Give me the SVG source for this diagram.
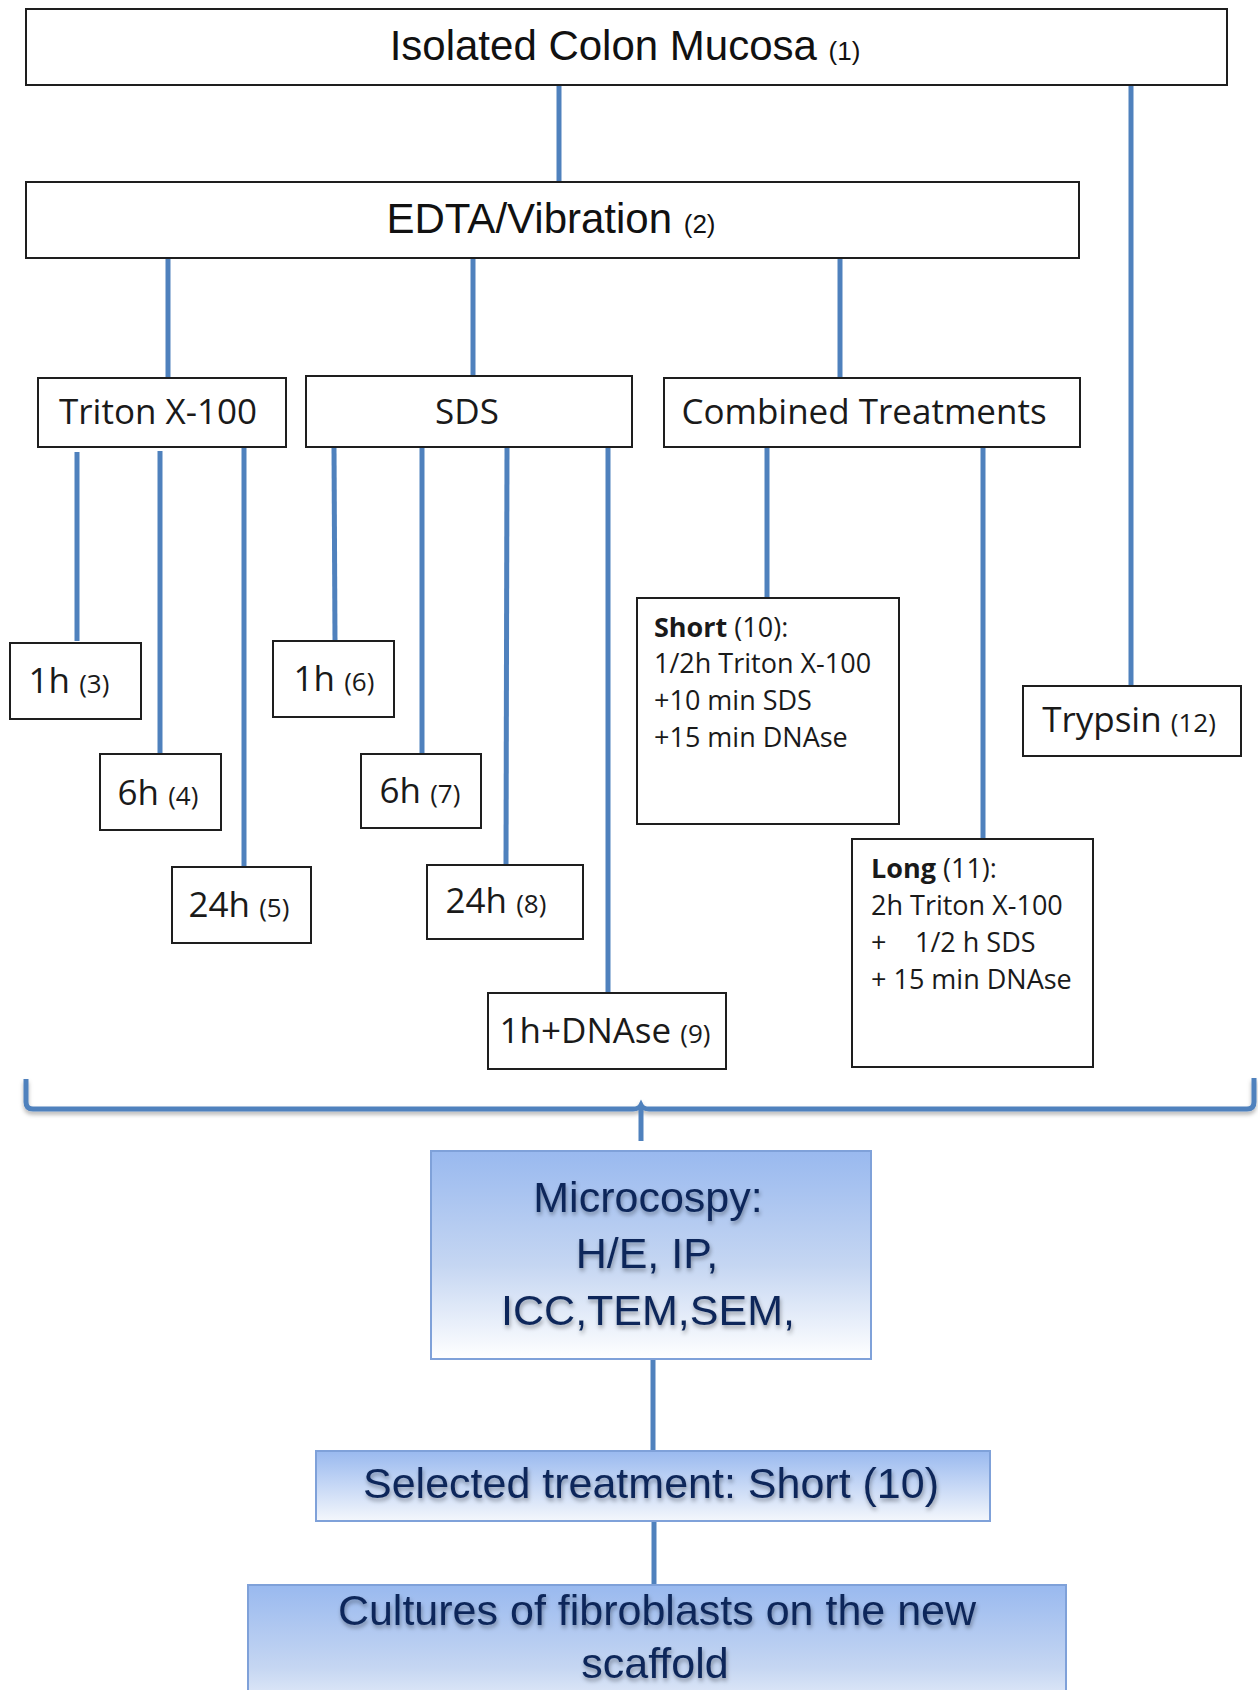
<svg xmlns="http://www.w3.org/2000/svg" width="1258" height="1690" viewBox="0 0 1258 1690">
<defs>
<linearGradient id="blueGrad" x1="0" y1="0" x2="0" y2="1">
<stop offset="0" stop-color="#99B9EF"/>
<stop offset="0.55" stop-color="#C5D6F2"/>
<stop offset="1" stop-color="#FFFFFF"/>
</linearGradient>
<linearGradient id="blueGrad2" x1="0" y1="0" x2="0" y2="1">
<stop offset="0" stop-color="#99B9EF"/>
<stop offset="1" stop-color="#F4F7FC"/>
</linearGradient>
<filter id="txtShadow" x="-10%" y="-30%" width="120%" height="160%">
<feDropShadow dx="1" dy="3" stdDeviation="2" flood-color="#000000" flood-opacity="0.35"/>
</filter>
<filter id="lineShadow" x="-5%" y="-50%" width="110%" height="200%">
<feDropShadow dx="0" dy="3" stdDeviation="2" flood-color="#000000" flood-opacity="0.3"/>
</filter>
</defs>
<style>
.box{fill:#ffffff;stroke:#1e1e1e;stroke-width:2}
.bbox{stroke:#7FA1D9;stroke-width:2}
.conn{stroke:#4F81BD;stroke-width:5;fill:none}
.cal{font-family:"Liberation Sans",Arial,sans-serif;fill:#111111}
.seg{font-family:"Open Sans","Noto Sans",sans-serif;fill:#1a1a1a}
.big{font-size:42px}
.mid{font-size:35px}
.sm{font-size:26px}
.txt27{font-size:27px}
.navy{font-family:"Liberation Sans",Arial,sans-serif;font-size:43px;fill:#10285A;filter:url(#txtShadow)}
</style>
<rect width="1258" height="1690" fill="#ffffff"/>

<g id="connectors">
<line class="conn" x1="559" y1="85" x2="559" y2="182"/>
<line class="conn" x1="1131" y1="85" x2="1131" y2="686"/>
<line class="conn" x1="168" y1="258" x2="168" y2="378"/>
<line class="conn" x1="473" y1="258" x2="473" y2="376"/>
<line class="conn" x1="840" y1="258" x2="840" y2="378"/>
<line class="conn" x1="77" y1="452" x2="77" y2="641"/>
<line class="conn" x1="160" y1="451" x2="160" y2="754"/>
<line class="conn" x1="244" y1="447" x2="244" y2="867"/>
<line class="conn" x1="334" y1="447" x2="335" y2="641"/>
<line class="conn" x1="422" y1="447" x2="422" y2="754"/>
<line class="conn" x1="507" y1="447" x2="506" y2="865"/>
<line class="conn" x1="608" y1="447" x2="608" y2="993"/>
<line class="conn" x1="767" y1="447" x2="767" y2="598"/>
<line class="conn" x1="983" y1="447" x2="983" y2="839"/>
<path class="conn" filter="url(#lineShadow)" d="M26,1079 L26,1102 Q26,1109 33,1109 L633,1109 Q639,1109 641,1105 Q643,1109 649,1109 L1247,1109 Q1254,1109 1254,1102 L1254,1078"/>
<line class="conn" x1="641" y1="1108" x2="641" y2="1141"/>
<line class="conn" x1="653" y1="1359" x2="653" y2="1451"/>
<line class="conn" x1="654" y1="1521" x2="654" y2="1585"/>
</g>

<g id="n1">
<rect class="box" x="26" y="9" width="1201" height="76"/>
<text class="cal big" x="625" y="60" text-anchor="middle">Isolated Colon Mucosa <tspan class="sm">(1)</tspan></text>
</g>
<g id="n2">
<rect class="box" x="26" y="182" width="1053" height="76"/>
<text class="cal big" x="551" y="233" text-anchor="middle">EDTA/Vibration <tspan class="sm">(2)</tspan></text>
</g>
<g id="triton">
<rect class="box" x="38" y="378" width="248" height="69"/>
<text class="seg mid" x="158" y="424" text-anchor="middle">Triton X-100</text>
</g>
<g id="sds">
<rect class="box" x="306" y="376" width="326" height="71"/>
<text class="seg mid" x="467" y="424" text-anchor="middle">SDS</text>
</g>
<g id="combined">
<rect class="box" x="664" y="378" width="416" height="69"/>
<text class="seg mid" x="864" y="424" text-anchor="middle">Combined Treatments</text>
</g>
<g id="n3">
<rect class="box" x="10" y="643" width="131" height="76"/>
<text class="seg mid" x="69" y="693" text-anchor="middle">1h <tspan class="sm">(3)</tspan></text>
</g>
<g id="n4">
<rect class="box" x="100" y="754" width="121" height="76"/>
<text class="seg mid" x="158" y="805" text-anchor="middle">6h <tspan class="sm">(4)</tspan></text>
</g>
<g id="n5">
<rect class="box" x="172" y="867" width="139" height="76"/>
<text class="seg mid" x="239" y="917" text-anchor="middle">24h <tspan class="sm">(5)</tspan></text>
</g>
<g id="n6">
<rect class="box" x="273" y="641" width="121" height="76"/>
<text class="seg mid" x="334" y="691" text-anchor="middle">1h <tspan class="sm">(6)</tspan></text>
</g>
<g id="n7">
<rect class="box" x="361" y="754" width="120" height="74"/>
<text class="seg mid" x="420" y="803" text-anchor="middle">6h <tspan class="sm">(7)</tspan></text>
</g>
<g id="n8">
<rect class="box" x="427" y="865" width="156" height="74"/>
<text class="seg mid" x="496" y="913" text-anchor="middle">24h <tspan class="sm">(8)</tspan></text>
</g>
<g id="n9">
<rect class="box" x="488" y="993" width="238" height="76"/>
<text class="seg mid" x="605" y="1043" text-anchor="middle">1h+DNAse <tspan class="sm">(9)</tspan></text>
</g>
<g id="n10">
<rect class="box" x="637" y="598" width="262" height="226"/>
<text class="seg txt27" x="654" y="637"><tspan font-weight="bold">Short</tspan> (10):</text>
<text class="seg txt27" x="654" y="673">1/2h Triton X-100</text>
<text class="seg txt27" x="654" y="710">+10 min SDS</text>
<text class="seg txt27" x="654" y="747">+15 min DNAse</text>
</g>
<g id="n11">
<rect class="box" x="852" y="839" width="241" height="228"/>
<text class="seg txt27" x="871" y="878"><tspan font-weight="bold">Long</tspan> (11):</text>
<text class="seg txt27" x="871" y="915">2h Triton X-100</text>
<text class="seg txt27" x="871" y="952">+<tspan x="915">1/2 h SDS</tspan></text>
<text class="seg txt27" x="871" y="989">+ 15 min DNAse</text>
</g>
<g id="n12">
<rect class="box" x="1023" y="686" width="218" height="70"/>
<text class="seg mid" x="1129" y="732" text-anchor="middle">Trypsin <tspan class="sm">(12)</tspan></text>
</g>
<g id="microscopy">
<rect class="bbox" x="431" y="1151" width="440" height="208" fill="url(#blueGrad)"/>
<text class="navy" x="648" y="1212" text-anchor="middle">Microcospy:</text>
<text class="navy" x="647" y="1268" text-anchor="middle">H/E, IP,</text>
<text class="navy" x="648" y="1325" text-anchor="middle">ICC,TEM,SEM,</text>
</g>
<g id="selected">
<rect class="bbox" x="316" y="1451" width="674" height="70" fill="url(#blueGrad2)"/>
<text class="navy" x="651" y="1498" text-anchor="middle">Selected treatment: Short (10)</text>
</g>
<g id="cultures">
<rect class="bbox" x="248" y="1585" width="818" height="150" fill="url(#blueGrad)"/>
<text class="navy" x="657" y="1625" text-anchor="middle">Cultures of fibroblasts on the new</text>
<text class="navy" x="655" y="1678" text-anchor="middle">scaffold</text>
</g>
</svg>
